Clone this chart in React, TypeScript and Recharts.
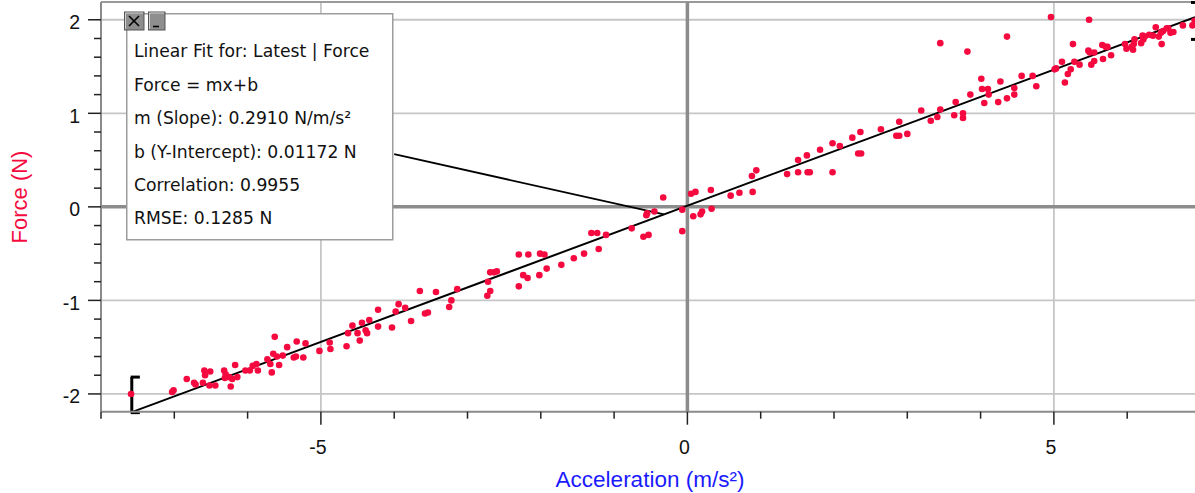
import React from "react";
import {
  ScatterChart,
  Scatter,
  XAxis,
  YAxis,
  ReferenceLine,
} from "recharts";

// Acceleration (m/s²) of each sample
const acceleration = [
  -7.59, -7.03, -7.01, -6.83, -6.73, -6.71, -6.61, -6.59, -6.58, -6.52,
  -6.51, -6.44, -6.32, -6.3, -6.31, -6.25, -6.23, -6.21, -6.17, -6.14,
  -6.03, -5.97, -5.93, -5.88, -5.86, -5.73, -5.69, -5.67, -5.63, -5.65,
  -5.6, -5.57, -5.52, -5.46, -5.37, -5.34, -5.33, -5.24, -5.21, -5.02,
  -4.88, -4.87, -4.65, -4.63, -4.57, -4.5, -4.47, -4.44, -4.39, -4.37,
  -4.34, -4.22, -4.22, -4.03, -3.98, -3.94, -3.85, -3.77, -3.65, -3.58,
  -3.54, -3.43, -3.25, -3.22, -3.14, -2.73, -2.72, -2.69, -2.69, -2.64,
  -2.6, -2.3, -2.3, -2.24, -2.18, -2.17, -2.02, -2.01, -1.95, -1.92,
  -1.72, -1.55, -1.41, -1.31, -1.23, -1.21, -1.11, -0.76, -0.6, -0.53,
  -0.56, -0.55, -0.45, -0.33, -0.07, -0.07, 0.05, 0.11, 0.08, 0.18,
  0.2, 0.32, 0.33, 0.59, 0.71, 0.89, 0.88, 0.94, 1.36, 1.51,
  1.51, 1.63, 1.64, 1.67, 1.81, 1.98, 1.98, 2.08, 2.25, 2.33,
  2.37, 2.36, 2.64, 2.85, 2.89, 2.89, 3.0, 3.19, 3.32, 3.41,
  3.45, 3.45, 3.64, 3.66, 3.76, 3.76, 3.82, 3.86, 4.01, 4.02,
  4.05, 4.1, 4.11, 4.24, 4.27, 4.36, 4.36, 4.46, 4.46, 4.56,
  4.71, 4.76, 4.96, 5.01, 5.03, 5.11, 5.15, 5.19, 5.23, 5.26,
  5.28, 5.35, 5.48, 5.47, 5.49, 5.51, 5.55, 5.55, 5.66, 5.67,
  5.71, 5.73, 5.78, 5.97, 5.99, 6.06, 6.08, 6.09, 6.1, 6.19,
  6.21, 6.22, 6.24, 6.3, 6.35, 6.39, 6.43, 6.47, 6.46, 6.49,
  6.54, 6.56, 6.59, 6.63, 6.76, 6.89, 6.92,
];

// Force (N) of each sample
const force = [
  -2.0, -1.98, -1.96, -1.84, -1.88, -1.9, -1.88, -1.75, -1.8, -1.91,
  -1.76, -1.91, -1.75, -1.79, -1.83, -1.82, -1.92, -1.84, -1.69, -1.82,
  -1.75, -1.75, -1.7, -1.68, -1.75, -1.63, -1.68, -1.77, -1.39, -1.57,
  -1.6, -1.69, -1.59, -1.5, -1.61, -1.6, -1.44, -1.61, -1.46, -1.54,
  -1.45, -1.52, -1.49, -1.35, -1.27, -1.35, -1.43, -1.24, -1.32, -1.35,
  -1.21, -1.1, -1.28, -1.29, -1.12, -1.04, -1.08, -1.22, -0.9, -1.14,
  -1.13, -0.91, -1.07, -1.0, -0.88, -0.95, -0.8, -0.9, -0.7, -0.7,
  -0.69, -0.51, -0.85, -0.73, -0.76, -0.51, -0.73, -0.5, -0.51, -0.66,
  -0.62, -0.55, -0.5, -0.28, -0.28, -0.45, -0.3, -0.23, -0.32, -0.3,
  -0.09, -0.07, -0.05, 0.1, -0.26, -0.03, 0.14, 0.16, -0.1, -0.08,
  -0.05, 0.18, -0.02, 0.12, 0.15, 0.16, 0.33, 0.39, 0.35, 0.37,
  0.5, 0.55, 0.37, 0.37, 0.61, 0.68, 0.37, 0.65, 0.74, 0.57,
  0.57, 0.8, 0.83, 0.76, 0.76, 0.91, 0.78, 1.03, 0.92, 0.96,
  1.04, 1.75, 0.98, 1.12, 1.0, 0.95, 1.66, 1.2, 1.37, 1.26,
  1.11, 1.26, 1.2, 1.12, 1.34, 1.82, 1.16, 1.2, 1.27, 1.4,
  1.4, 1.29, 2.03, 1.47, 1.48, 1.55, 1.33, 1.42, 1.47, 1.74,
  1.55, 1.52, 2.0, 1.67, 1.65, 1.52, 1.65, 1.56, 1.73, 1.58,
  1.71, 1.71, 1.62, 1.74, 1.69, 1.71, 1.68, 1.74, 1.79, 1.75,
  1.83, 1.79, 1.82, 1.84, 1.83, 1.92, 1.82, 1.74, 1.86, 1.88,
  1.91, 1.91, 1.86, 1.87, 1.94, 1.94, 1.99,
];

const xTicks = [-8, -7, -6, -5, -4, -3, -2, -1, 0, 1, 2, 3, 4, 5, 6];
const xLabeled = [-5, 0, 5];
const yTicks = [
  -2, -1.8, -1.6, -1.4, -1.2, -1, -0.8, -0.6, -0.4, -0.2, 0,
  0.2, 0.4, 0.6, 0.8, 1, 1.2, 1.4, 1.6, 1.8, 2,
];
const yLabeled = [-2, -1, 0, 1, 2];

const fitLines = [
  "Linear Fit for: Latest | Force",
  "Force = mx+b",
  "m (Slope): 0.2910 N/m/s²",
  "b (Y-Intercept): 0.01172 N",
  "Correlation: 0.9955",
  "RMSE: 0.1285 N",
];

const SLOPE = 0.291;
const INTERCEPT = 0.01172;
const FIT_START = -7.58;
const X_DOMAIN: [number, number] = [-8, 6.925];
const Y_DOMAIN: [number, number] = [-2.19, 2.19];

const RED = "#f50a40";
const TICK_FONT = "'Liberation Sans', Arial, sans-serif";

const points = acceleration.map((x, i) => ({ x, y: force[i] }));
const fit = (x: number) => SLOPE * x + INTERCEPT;

function XTick(props: any) {
  const { x, y, payload } = props;
  const major = xLabeled.includes(payload.value);
  return (
    <g>
      <line x1={x} x2={x} y1={y} y2={y + (major ? 13 : 7)} stroke="#222" strokeWidth={1.5} />
      {major && (
        <text x={x - 3} y={y + 42.5} textAnchor="middle" fontSize={19.5} fill="#111" fontFamily={TICK_FONT}>
          {payload.value}
        </text>
      )}
    </g>
  );
}

function YTick(props: any) {
  const { x, y, payload } = props;
  const major = yLabeled.includes(payload.value);
  return (
    <g>
      <line x1={x - (major ? 13 : 7)} x2={x} y1={y} y2={y} stroke="#222" strokeWidth={1.5} />
      {major && (
        <text x={x - 21} y={y + 9.3} textAnchor="end" fontSize={19.5} fill="#111" fontFamily={TICK_FONT}>
          {payload.value}
        </text>
      )}
    </g>
  );
}

const Dot = (props: any) => <circle cx={props.cx} cy={props.cy} r={3.3} fill={RED} />;

export default function App() {
  return (
    <div style={{ position: "absolute", left: 0, top: 0, width: 1195, height: 493, background: "#fff" }}>
      <ScatterChart width={1195} height={493} margin={{ top: 2, right: 0, bottom: 0, left: 0 }}>
        <XAxis
          type="number"
          dataKey="x"
          domain={X_DOMAIN}
          ticks={xTicks}
          interval={0}
          allowDataOverflow
          height={81.3}
          tickSize={0}
          tickMargin={0}
          tickLine={false}
          tick={<XTick />}
          axisLine={{ stroke: "#8a8a8a", strokeWidth: 2 }}
        />
        <YAxis
          type="number"
          dataKey="y"
          domain={Y_DOMAIN}
          ticks={yTicks}
          interval={0}
          allowDataOverflow
          width={101}
          tickSize={0}
          tickMargin={0}
          tickLine={false}
          tick={<YTick />}
          axisLine={{ stroke: "#8a8a8a", strokeWidth: 2 }}
        />
        {[-5, 5].map((v) => (
          <ReferenceLine key={"gx" + v} x={v} stroke="#c6c6c6" strokeWidth={1.8} />
        ))}
        {[-2, -1, 1, 2].map((v) => (
          <ReferenceLine key={"gy" + v} y={v} stroke="#c6c6c6" strokeWidth={1.8} />
        ))}
        <ReferenceLine y={Y_DOMAIN[1]} stroke="#999" strokeWidth={2} />
        <ReferenceLine x={0} stroke="#8c8c8c" strokeWidth={3.5} />
        <ReferenceLine y={0} stroke="#8c8c8c" strokeWidth={3.5} />
        <Scatter data={points} isAnimationActive={false} shape={Dot} />
        <ReferenceLine
          segment={[
            { x: FIT_START, y: fit(FIT_START) },
            { x: X_DOMAIN[1], y: fit(X_DOMAIN[1]) },
          ]}
          stroke="#000"
          strokeWidth={2}
          ifOverflow="visible"
        />
        {/* leader from the fit box to the line */}
        <ReferenceLine
          segment={[
            { x: -4.0, y: 0.564 },
            { x: -0.32, y: fit(-0.32) },
          ]}
          stroke="#000"
          strokeWidth={1.8}
          ifOverflow="visible"
        />
        {/* fit range brackets */}
        <ReferenceLine segment={[{ x: FIT_START, y: -2.2 }, { x: FIT_START, y: -1.82 }]} stroke="#000" strokeWidth={3} ifOverflow="visible" />
        <ReferenceLine segment={[{ x: FIT_START - 0.015, y: -1.82 }, { x: -7.47, y: -1.82 }]} stroke="#000" strokeWidth={3} ifOverflow="visible" />
        <ReferenceLine segment={[{ x: FIT_START - 0.015, y: -2.2 }, { x: -7.47, y: -2.2 }]} stroke="#000" strokeWidth={3} ifOverflow="visible" />
        <ReferenceLine segment={[{ x: 6.87, y: 2.185 }, { x: 7.0, y: 2.185 }]} stroke="#000" strokeWidth={3} ifOverflow="visible" />
        <ReferenceLine segment={[{ x: 6.87, y: 1.79 }, { x: 7.0, y: 1.79 }]} stroke="#000" strokeWidth={3} ifOverflow="visible" />
      </ScatterChart>

      <svg
        width={1195}
        height={493}
        style={{ position: "absolute", left: 0, top: 0, pointerEvents: "none" }}
      >
        <text
          x={650}
          y={486.7}
          textAnchor="middle"
          fontSize={22.5}
          fill="#1a1aff"
          fontFamily={TICK_FONT}
        >
          Acceleration (m/s²)
        </text>
        <text
          x={27}
          y={197}
          transform="rotate(-90 27 197)"
          textAnchor="middle"
          fontSize={22}
          fill={RED}
          fontFamily={TICK_FONT}
        >
          Force (N)
        </text>

        <rect x={126.75} y={13.75} width={266} height={226} fill="#fff" stroke="#9c9c9c" strokeWidth={1.5} />
        {fitLines.map((t, i) => (
          <text
            key={i}
            x={134}
            y={57.3 + i * 33.4}
            fontSize={17.2}
            fill="#111"
            fontFamily="'DejaVu Sans', Verdana, sans-serif"
          >
            {t}
          </text>
        ))}

        <rect x={124.5} y={12} width={19.5} height={18} fill="#8e8e8e" stroke="#555" />
        <path d="M125.5 29 V13 H143" fill="none" stroke="#d0d0d0" />
        <line x1={129} y1={16} x2={139} y2={26} stroke="#000" strokeWidth={1.6} />
        <line x1={139} y1={16} x2={129} y2={26} stroke="#000" strokeWidth={1.6} />
        <rect x={148.5} y={12} width={16.5} height={18} fill="#8e8e8e" stroke="#555" />
        <path d="M149.5 29 V13 H164" fill="none" stroke="#d0d0d0" />
        <line x1={153} y1={26.5} x2={159} y2={26.5} stroke="#000" strokeWidth={1.6} />
      </svg>
    </div>
  );
}
